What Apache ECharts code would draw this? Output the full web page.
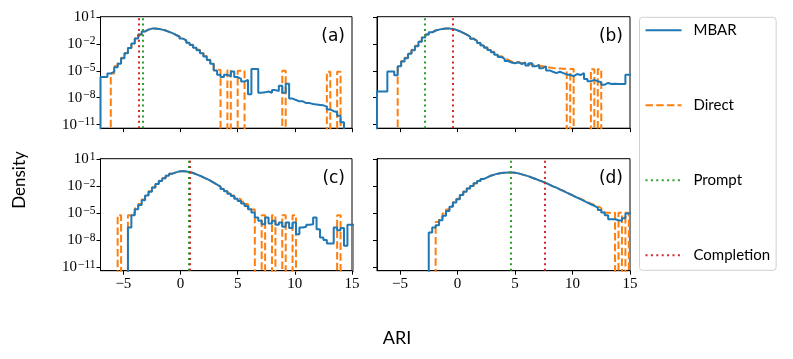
<!DOCTYPE html>
<html>
<head>
<meta charset="utf-8">
<script src="https://cdn.jsdelivr.net/npm/echarts@6/dist/echarts.min.js"></script>
<style>
  html, body { margin: 0; padding: 0; background: #fff; }
  #chart { width: 793px; height: 359px; }
</style>
</head>
<body>
<div id="chart"></div>
<script>
// histogram bins, shared by every panel
const binStart = -7;
const binWidth = 0.3;

// log10(density) per bin, null = empty bin
const aMbar = [
  -5.7, -5.7, -5.3, -5.1, -4.6, -4.2, -3.6, -3.05, -2.45, -1.95,
  -1.4, -0.95, -0.6, -0.4, -0.29, -0.29, -0.32, -0.4, -0.5, -0.65,
  -0.8, -1.0, -1.17, -1.4, -1.6, -1.87, -2.12, -2.42, -2.7, -3.05,
  -3.4, -3.8, -4.2, -4.95, -5.45, -5.7, -5.45, -5.6, -5.07, -5.7,
  -5.9, -6.2, -6.0, -7.6, -4.8, -4.8, -7.45, -7.4, -7.3, -7.45,
  -7.15, -7.25, -6.65, -7.45, -6.45, -8.1, -8.25, -8.4, -8.4, -8.6,
  -8.6, -8.7, -8.75, -8.8, -8.85, -9.0, -9.3, -9.5, -9.6, -10.0,
  -10.75, null, null, null
];
const aDirect = [
  null, null, null, -5.3, -4.5, -4.15, -3.55, -3.0, -2.45, -1.95,
  -1.4, -0.95, -0.6, -0.4, -0.29, -0.29, -0.32, -0.4, -0.5, -0.65,
  -0.8, -0.98, -1.17, -1.38, -1.6, -1.85, -2.1, -2.4, -2.65, -3.0,
  -3.35, -3.75, -4.1, -4.85, -4.9, null, null, -4.9, null, null,
  -5.0, -5.0, null, null, null, null, null, null, null, null,
  null, null, null, -5.0, null, null, null, null, null, null,
  null, null, null, null, null, null, -5.1, null, null, -5.1,
  null, null, null, null
];
const bMbar = [
  -7.3, -7.3, -7.3, -5.07, -5.07, -5.5, -4.5, -3.95, -3.6, -3.1,
  -2.7, -2.25, -1.75, -1.28, -0.95, -0.7, -0.5, -0.4, -0.32, -0.29,
  -0.29, -0.32, -0.43, -0.58, -0.76, -0.95, -1.17, -1.43, -1.65, -1.9,
  -2.16, -2.42, -2.68, -2.93, -3.2, -3.45, -3.67, -3.9, -4.07, -4.15,
  -4.04, -4.26, -4.07, -4.4, -4.15, -4.5, -4.33, -4.7, -4.5, -4.95,
  -5.1, -5.25, -5.1, -5.25, -5.4, -5.47, -5.58, -5.36, -5.47, -5.25,
  -5.9, -6.17, -6.0, -6.17, -6.28, -6.54, -6.35, -6.46, -6.43, -6.46,
  -6.46, -6.46, -5.43, -5.43
];
const bDirect = [
  null, null, null, null, null, null, -4.6, -3.9, -3.55, -3.05,
  -2.65, -2.2, -1.72, -1.27, -0.95, -0.7, -0.5, -0.4, -0.32, -0.29,
  -0.29, -0.32, -0.43, -0.58, -0.76, -0.95, -1.15, -1.4, -1.62, -1.88,
  -2.12, -2.38, -2.62, -2.88, -3.12, -3.36, -3.58, -3.78, -3.95, -4.05,
  -4.05, -4.12, -4.2, -4.25, -4.3, -4.36, -4.42, -4.48, -4.55, -4.62,
  -4.68, -4.72, -4.74, -4.76, -4.78, null, -4.8, null, null, null,
  null, null, -4.82, null, -4.82, null, null, null, null, null,
  null, null, null, null
];
const cMbar = [
  null, null, null, null, null, null, null, null, -6.6, -5.24,
  -4.57, -4.1, -3.58, -3.06, -2.62, -2.17, -1.77, -1.43, -1.14, -0.85,
  -0.62, -0.48, -0.37, -0.33, -0.37, -0.44, -0.55, -0.7, -0.85, -1.03,
  -1.21, -1.4, -1.62, -1.84, -2.06, -2.32, -2.58, -2.84, -3.1, -3.4,
  -3.65, -3.94, -4.2, -4.57, -4.94, -5.5, -5.86, -6.23, -5.5, -6.16,
  -5.86, -6.3, -6.05, -6.53, -6.05, -6.67, -6.05, -7.34, -6.6, -6.53,
  -6.3, -6.23, -5.5, -6.8, -7.7, -8.0, -8.37, -8.37, -6.6, -6.9,
  -6.67, -8.63, -6.3, -6.3
];
const cDirect = [
  null, null, null, null, null, -5.24, null, null, -5.24, -5.0,
  -4.45, -4.0, -3.5, -3.0, -2.58, -2.15, -1.75, -1.42, -1.13, -0.85,
  -0.62, -0.48, -0.37, -0.33, -0.37, -0.44, -0.55, -0.7, -0.85, -1.03,
  -1.21, -1.4, -1.62, -1.84, -2.06, -2.3, -2.55, -2.8, -3.05, -3.3,
  -3.5, -3.75, -4.0, -4.3, -4.6, null, null, -5.24, null, null,
  -5.24, null, null, -5.24, null, null, -5.24, null, null, null,
  null, null, null, null, null, null, null, null, null, -5.24,
  null, null, null, null
];
const dMbar = [
  null, null, null, null, null, null, null, null, null, null,
  null, null, null, null, null, -7.15, -6.6, -6.34, -5.8, -5.3,
  -4.76, -4.31, -3.83, -3.46, -2.99, -2.62, -2.28, -1.99, -1.69, -1.44,
  -1.21, -1.03, -0.85, -0.73, -0.62, -0.55, -0.51, -0.48, -0.48, -0.51,
  -0.59, -0.7, -0.81, -0.92, -1.07, -1.21, -1.36, -1.51, -1.66, -1.84,
  -2.03, -2.17, -2.36, -2.54, -2.73, -2.91, -3.1, -3.28, -3.46, -3.65,
  -3.83, -4.02, -4.2, -4.39, -4.65, -4.94, -5.24, -5.68, -5.68, -5.79,
  -5.86, -5.57, -5.05, -5.05
];
const dDirect = [
  null, null, null, null, null, null, null, null, null, null,
  null, null, null, null, null, null, null, -6.0, -5.5, -5.05,
  -4.6, -4.25, -3.8, -3.42, -2.97, -2.6, -2.27, -1.98, -1.69, -1.44,
  -1.21, -1.03, -0.85, -0.73, -0.62, -0.55, -0.51, -0.48, -0.48, -0.51,
  -0.59, -0.7, -0.81, -0.92, -1.07, -1.21, -1.36, -1.51, -1.66, -1.84,
  -2.03, -2.17, -2.36, -2.54, -2.73, -2.9, -3.08, -3.25, -3.42, -3.6,
  -3.78, -3.95, -4.1, -4.25, -4.45, -4.7, -4.95, -5.0, -4.95, null,
  -4.95, null, -4.95, null
];

// ARI of the prompt / completion reference, one per panel
const promptAri = [-3.27, -2.84, 0.75, 4.66];
const completionAri = [-3.64, -0.42, 0.83, 7.6];

const panelNames = ['(a)', '(b)', '(c)', '(d)'];
const xTicks = [-5, 0, 5, 10, 15];
const yTickExps = [1, -2, -5, -8, -11];

const mbarAll = [aMbar, bMbar, cMbar, dMbar];
const directAll = [aDirect, bDirect, cDirect, dDirect];

const BLUE = '#1f77b4', ORANGE = '#ff7f0e', GREEN = '#2ca02c', RED = '#d62728';
const FLOOR = -40; // empty bin, far below the axis
const SERIF = 'Liberation Serif';
const SANS = 'Lato';

// matplotlib-like step outline: edges with values, closed down to the floor
function stepData(vals) {
  const pts = [[binStart, FLOOR]];
  vals.forEach(function(v, i) {
    pts.push([binStart + i * binWidth, v == null ? FLOOR : v]);
  });
  const endX = binStart + vals.length * binWidth;
  const last = vals[vals.length - 1];
  pts.push([endX, last == null ? FLOOR : last]);
  pts.push([endX, FLOOR]);
  return pts;
}

const grids = [
  {left: 100.5, top: 16.7, width: 251.5, height: 111.5},
  {left: 377, top: 16.7, width: 253, height: 111.5},
  {left: 100.5, top: 158.7, width: 251.5, height: 112},
  {left: 377, top: 158.7, width: 253, height: 112}
];

const chart = echarts.init(document.getElementById('chart'));

const option = {
  animation: false,
  grid: grids.map(g => Object.assign({show: true, borderColor: '#000', borderWidth: 1}, g)),
  xAxis: grids.map((g, i) => ({
    type: 'value', gridIndex: i, min: -7, max: 15,
    axisLine: {show: true, onZero: false, lineStyle: {color: '#000', width: 1}},
    axisTick: {show: true, length: 4, customValues: xTicks, lineStyle: {color: '#000'}},
    axisLabel: {
      show: i >= 2, customValues: xTicks, margin: 6,
      fontFamily: SERIF, fontSize: 15, color: '#000',
      formatter: v => String(v).replace('-', '\u2212')
    },
    splitLine: {show: false}
  })),
  yAxis: grids.map((g, i) => ({
    type: 'value', gridIndex: i, min: -11.4, max: 1.04,
    axisLine: {show: true, onZero: false, lineStyle: {color: '#000', width: 1}},
    axisTick: {show: true, length: 4, customValues: yTickExps, lineStyle: {color: '#000'}},
    axisLabel: {
      show: i % 2 === 0, customValues: yTickExps, margin: 5,
      formatter: v => '{b|10}{s|' + String(Math.round(v)).replace('-', '\u2212') + '}',
      rich: {
        b: {fontFamily: SERIF, fontSize: 15, color: '#000', lineHeight: 17},
        s: {fontFamily: SERIF, fontSize: 11.5, color: '#000', lineHeight: 11, verticalAlign: 'top', padding: [0, 0, 0, 1]}
      }
    },
    splitLine: {show: false}
  })),
  legend: {
    data: ['MBAR', 'Direct', 'Prompt', 'Completion'],
    orient: 'vertical',
    left: 639.5, top: 17.3,
    itemWidth: 36, itemHeight: 16, itemGap: 60,
    padding: [5.5, 6, 7.5, 5],
    borderColor: '#d0d0d0', borderWidth: 1, borderRadius: 3,
    itemStyle: {opacity: 0, borderWidth: 0},
    textStyle: {fontFamily: SANS, fontSize: 15, color: '#000', padding: [0, 0, 0, 7]},
    selectedMode: false
  },
  graphic: [],
  series: []
};

grids.forEach(function(g, i) {
  option.series.push({
    name: 'Direct', type: 'line', xAxisIndex: i, yAxisIndex: i,
    step: 'end', symbol: 'none', silent: true, z: 2,
    lineStyle: {color: ORANGE, width: 2, type: [7.5, 3.2]},
    itemStyle: {color: ORANGE},
    data: stepData(directAll[i])
  });
  option.series.push({
    name: 'MBAR', type: 'line', xAxisIndex: i, yAxisIndex: i,
    step: 'end', symbol: 'none', silent: true, z: 3,
    lineStyle: {color: BLUE, width: 2},
    itemStyle: {color: BLUE},
    data: stepData(mbarAll[i])
  });
  [['Prompt', GREEN, promptAri[i]], ['Completion', RED, completionAri[i]]].forEach(function(m) {
    option.series.push({
      name: m[0], type: 'line', xAxisIndex: i, yAxisIndex: i,
      symbol: 'none', silent: true, z: 4,
      lineStyle: {color: m[1], width: 2, type: [2, 3.4]},
      itemStyle: {color: m[1]},
      data: [],
      markLine: {
        silent: true, symbol: 'none', animation: false,
        label: {show: false},
        lineStyle: {color: m[1], width: 2, type: [2, 3.4]},
        emphasis: {disabled: true},
        data: [{xAxis: m[2]}]
      }
    });
  });
  option.graphic.push({
    type: 'text', x: g.left + g.width - 7, y: g.top + 20, silent: true,
    style: {text: panelNames[i], align: 'right', verticalAlign: 'middle',
            fontFamily: 'DejaVu Sans', fontSize: 17, fill: '#000'}
  });
});

option.graphic.push({
  type: 'text', x: 20, y: 180, rotation: Math.PI / 2, silent: true,
  style: {text: 'Density', align: 'center', verticalAlign: 'middle',
          fontFamily: SANS, fontSize: 17, fill: '#000'}
});
option.graphic.push({
  type: 'text', x: 397, y: 338, silent: true,
  style: {text: 'ARI', align: 'center', verticalAlign: 'middle',
          fontFamily: SANS, fontSize: 18, fill: '#000'}
});

chart.setOption(option);

window.addEventListener('resize', function() {
  chart.resize();
});
</script>
</body>
</html>
